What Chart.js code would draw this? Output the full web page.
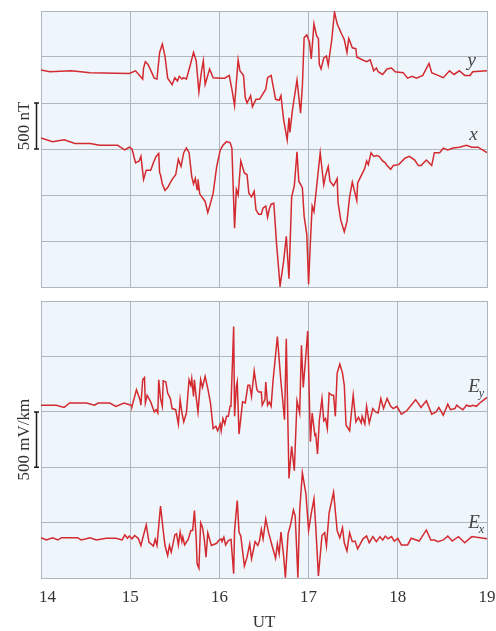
<!DOCTYPE html>
<html>
<head>
<meta charset="utf-8">
<script src="https://cdn.jsdelivr.net/npm/chart.js@4.4.0/dist/chart.umd.min.js"></script>
<style>
  html, body { margin: 0; padding: 0; background: #fff; overflow: hidden; }
  #wrap { position: relative; width: 496px; height: 631px; overflow: hidden; }
  canvas { position: absolute; left: 0; }
</style>
</head>
<body>
<div id="wrap">
  <canvas id="magChart" width="520" height="295" style="top:0;width:520px;height:295px"></canvas>
  <canvas id="elecChart" width="520" height="338" style="top:295px;width:520px;height:338px"></canvas>
</div>
<script>
/* Magnetometer (nT) and electric field (mV/km) traces, 14-19 UT */

const hourTicks = [14, 15, 16, 17, 18, 19];

// top panel, y component (nT, offset inside panel)
const magYTime = [14.0,14.1,14.34,14.55,14.99,15.06,15.14,15.15,15.17,15.20,
  15.27,15.30,15.33,15.36,15.39,15.42,15.47,15.50,15.53,15.55,
  15.58,15.60,15.63,15.67,15.71,15.74,15.77,15.80,15.82,15.84,
  15.89,15.93,16.02,16.06,16.11,16.14,16.17,16.21,16.23,16.27,
  16.29,16.31,16.35,16.37,16.41,16.45,16.52,16.54,16.58,16.63,
  16.67,16.69,16.72,16.76,16.78,16.79,16.82,16.87,16.91,16.93,
  16.95,16.98,17.01,17.03,17.06,17.09,17.11,17.12,17.14,17.17,
  17.20,17.22,17.26,17.29,17.32,17.37,17.40,17.43,17.45,17.49,
  17.53,17.54,17.60,17.65,17.69,17.73,17.76,17.78,17.83,17.88,
  17.93,17.97,18.06,18.11,18.16,18.21,18.28,18.35,18.38,18.45,
  18.51,18.58,18.63,18.69,18.75,18.81,18.84,19.0];
const magY = [2360,2340,2350,2330,2320,2350,2260,2380,2450,2420,
  2270,2260,2550,2640,2510,2270,2200,2275,2240,2290,
  2260,2275,2260,2400,2550,2460,2120,2350,2460,2200,
  2370,2275,2270,2270,2300,2150,1970,2470,2350,2300,
  2060,2000,2080,1960,2040,2040,2150,2275,2300,2040,
  2030,2080,1820,1600,1840,1680,1930,2250,1890,2180,
  2710,2740,2660,2480,2860,2730,2700,2420,2370,2490,
  2510,2410,2690,2990,2860,2750,2690,2550,2700,2600,
  2590,2500,2470,2450,2470,2350,2380,2340,2310,2370,
  2380,2340,2330,2270,2290,2270,2300,2430,2330,2300,
  2275,2350,2310,2350,2300,2300,2340,2350];

// top panel, x component
const magXTime = [14.0,14.13,14.26,14.38,14.55,14.66,14.86,14.89,14.94,14.99,
  15.02,15.06,15.10,15.12,15.15,15.18,15.23,15.26,15.29,15.32,
  15.33,15.34,15.36,15.39,15.42,15.47,15.51,15.54,15.57,15.60,
  15.63,15.66,15.69,15.71,15.73,15.75,15.76,15.78,15.84,15.87,
  15.90,15.93,15.97,16.01,16.04,16.08,16.12,16.14,16.17,16.19,
  16.21,16.24,16.28,16.31,16.33,16.36,16.39,16.41,16.44,16.47,
  16.49,16.52,16.54,16.56,16.58,16.61,16.64,16.68,16.72,16.75,
  16.78,16.81,16.84,16.87,16.89,16.93,16.95,16.98,17.00,17.02,
  17.04,17.06,17.09,17.13,17.17,17.19,17.22,17.24,17.28,17.32,
  17.33,17.36,17.40,17.43,17.46,17.49,17.52,17.54,17.55,17.59,
  17.63,17.65,17.67,17.70,17.73,17.76,17.79,17.83,17.86,17.88,
  17.92,17.95,18.01,18.08,18.13,18.19,18.23,18.26,18.32,18.38,
  18.41,18.47,18.51,18.56,18.62,18.69,18.77,18.83,18.90,19.0];
const magX = [1620,1580,1600,1560,1560,1540,1540,1520,1490,1520,
  1500,1350,1370,1420,1170,1270,1270,1350,1420,1450,
  1240,1220,1120,1050,1080,1170,1220,1390,1310,1460,
  1510,1460,1200,1120,1180,1060,1170,1010,930,810,
  910,1020,1310,1490,1540,1580,1570,1510,640,1060,
  1000,1370,1240,1220,1020,980,1040,840,790,790,
  860,880,760,850,900,910,480,10,280,550,
  90,980,1100,1470,1150,1080,770,570,30,490,
  880,820,1090,1460,1110,1210,1310,1150,1100,1180,
  920,730,600,710,980,1140,1020,940,1130,1210,
  1290,1370,1330,1460,1420,1430,1420,1370,1350,1320,
  1280,1320,1330,1400,1420,1380,1320,1320,1380,1320,
  1460,1460,1510,1490,1510,1520,1540,1520,1520,1460];

// bottom panel, Ey (mV/km, offset inside panel)
const elecYTime = [14.0,14.17,14.26,14.32,14.51,14.60,14.64,14.77,14.84,14.93,
  15.01,15.02,15.07,15.11,15.12,15.14,15.16,15.17,15.19,15.23,
  15.27,15.29,15.31,15.32,15.34,15.36,15.37,15.40,15.42,15.45,
  15.47,15.51,15.54,15.56,15.58,15.60,15.63,15.66,15.68,15.69,
  15.71,15.72,15.74,15.76,15.79,15.81,15.84,15.87,15.90,15.93,
  15.96,15.98,16.01,16.02,16.04,16.06,16.08,16.10,16.12,16.13,
  16.16,16.17,16.19,16.20,16.22,16.26,16.29,16.32,16.34,16.36,
  16.39,16.42,16.44,16.47,16.48,16.51,16.52,16.54,16.56,16.58,
  16.60,16.65,16.69,16.73,16.75,16.78,16.81,16.84,16.87,16.90,
  16.92,16.94,16.97,16.99,17.02,17.04,17.07,17.08,17.10,17.12,
  17.15,17.17,17.19,17.21,17.23,17.26,17.28,17.30,17.32,17.35,
  17.38,17.40,17.42,17.46,17.50,17.53,17.56,17.59,17.60,17.63,
  17.65,17.68,17.72,17.75,17.78,17.81,17.84,17.88,17.92,17.95,
  17.99,18.04,18.10,18.20,18.26,18.32,18.38,18.43,18.46,18.51,
  18.56,18.59,18.64,18.66,18.69,18.73,18.77,18.81,18.84,18.88,
  18.92,19.0];
const elecY = [1560,1560,1540,1580,1580,1560,1580,1580,1550,1580,
  1560,1550,1700,1610,1560,1790,1810,1580,1650,1590,
  1500,1520,1490,1790,1620,1550,1780,1770,1670,1620,
  1530,1520,1390,1610,1490,1410,1490,1790,1740,1800,
  1640,1790,1630,1500,1790,1720,1820,1710,1580,1350,
  1370,1330,1390,1330,1440,1390,1460,1460,1550,1560,
  2270,1460,1730,1770,1300,1590,1580,1740,1740,1640,
  1870,1700,1680,1680,1560,1610,1770,1560,1590,1550,
  1770,2180,1770,1430,2160,900,1190,970,1600,1490,
  2100,1720,2020,2230,1230,1490,1290,1300,1120,1420,
  1620,1420,1440,1350,1670,1650,1650,1460,1850,1930,
  1850,1740,1380,1330,1650,1410,1450,1400,1460,1390,
  1550,1400,1530,1500,1490,1620,1530,1620,1550,1530,
  1550,1480,1510,1610,1540,1600,1480,1500,1540,1470,
  1570,1520,1530,1560,1540,1520,1560,1550,1560,1550,
  1580,1630];

// bottom panel, Ex
const elecXTime = [14.0,14.06,14.13,14.19,14.23,14.41,14.45,14.55,14.62,14.73,
  14.84,14.91,14.94,14.97,14.99,15.02,15.05,15.09,15.12,15.15,
  15.18,15.21,15.26,15.28,15.30,15.34,15.37,15.39,15.42,15.44,
  15.46,15.48,15.50,15.52,15.54,15.56,15.58,15.59,15.61,15.65,
  15.68,15.70,15.72,15.74,15.75,15.77,15.79,15.81,15.83,15.85,
  15.87,15.91,15.97,15.99,16.02,16.03,16.05,16.07,16.10,16.13,
  16.16,16.17,16.20,16.22,16.24,16.28,16.31,16.34,16.36,16.38,
  16.40,16.43,16.45,16.47,16.49,16.52,16.55,16.59,16.63,16.65,
  16.67,16.69,16.72,16.74,16.77,16.80,16.83,16.85,16.88,16.90,
  16.93,16.97,17.00,17.03,17.06,17.08,17.11,17.15,17.18,17.20,
  17.23,17.28,17.32,17.35,17.38,17.40,17.43,17.46,17.49,17.52,
  17.55,17.61,17.65,17.68,17.72,17.76,17.80,17.83,17.86,17.89,
  17.93,17.96,18.00,18.04,18.11,18.15,18.24,18.32,18.37,18.41,
  18.45,18.51,18.56,18.61,18.68,18.75,18.83,19.0];
const elecX = [365,345,365,345,365,365,345,365,345,360,
  360,345,390,360,380,355,385,360,295,390,
  480,325,290,350,295,650,430,295,205,295,
  235,310,390,400,300,415,330,370,300,350,
  430,430,610,355,130,90,500,460,355,190,
  410,295,315,340,355,330,370,300,340,350,
  40,430,700,415,380,110,190,310,175,250,
  330,295,340,440,355,535,415,295,180,310,
  220,415,200,5,400,490,615,560,5,610,
  950,760,430,585,715,465,20,385,410,290,
  590,775,430,365,455,320,245,410,330,335,
  265,355,380,320,375,330,375,345,380,355,
  375,335,360,300,300,360,335,435,345,345,
  330,345,380,335,375,320,375,355];

// 500-unit scale bars
const magScaleBar = [1500, 2000];
const elecScaleBar = [1000, 1500];

const RED = '#d32a2f';
const GRID = '#aeb7bf';
const TEXT = '#333333';
const SERIF = '"Liberation Serif", "DejaVu Serif", serif';

function toPoints(times, values) {
    return times.map((t, i) => ({ x: t, y: values[i] }));
}

function trace(times, values) {
    return {
        data: toPoints(times, values),
        borderColor: RED,
        borderWidth: 1.5,
        pointRadius: 0,
        tension: 0,
        fill: false
    };
}

// light blue plot background
const panelBackground = {
    id: 'panelBackground',
    beforeDraw(chart) {
        const { ctx, chartArea: a } = chart;
        ctx.save();
        ctx.fillStyle = '#eef6fc';
        ctx.fillRect(a.left, a.top, a.right - a.left, a.bottom - a.top);
        ctx.restore();
    }
};

// scale bar, its rotated label and the curve names
const panelNotes = {
    id: 'panelNotes',
    afterDraw(chart, args, opts) {
        const { ctx, chartArea: a } = chart;
        const xs = chart.scales.x, ys = chart.scales.y;
        const y0 = ys.getPixelForValue(opts.bar[0]);
        const y1 = ys.getPixelForValue(opts.bar[1]);
        const bx = a.left - 4.5;

        ctx.save();
        ctx.strokeStyle = '#1a1a1a';
        ctx.lineWidth = 1.5;
        ctx.beginPath();
        ctx.moveTo(bx, y0); ctx.lineTo(bx, y1);
        ctx.moveTo(bx - 2.5, y0); ctx.lineTo(bx + 2.5, y0);
        ctx.moveTo(bx - 2.5, y1); ctx.lineTo(bx + 2.5, y1);
        ctx.stroke();

        ctx.translate(25, (y0 + y1) / 2);
        ctx.rotate(-Math.PI / 2);
        ctx.font = '17px ' + SERIF;
        ctx.fillStyle = TEXT;
        ctx.textAlign = 'center';
        ctx.textBaseline = 'middle';
        ctx.fillText(opts.barText, 0, 0);
        ctx.restore();

        opts.names.forEach(n => {
            const px = xs.getPixelForValue(n.x);
            const py = ys.getPixelForValue(n.y);
            ctx.save();
            ctx.fillStyle = '#444';
            ctx.font = 'italic 19px ' + SERIF;
            ctx.textAlign = 'left';
            ctx.textBaseline = 'alphabetic';
            ctx.fillText(n.text, px, py);
            if (n.sub) {
                const w = ctx.measureText(n.text).width;
                ctx.font = 'italic 12px ' + SERIF;
                ctx.fillText(n.sub, px + w - 1, py + 5);
            }
            ctx.restore();
        });
    }
};

function makePanel(id, datasets, yMax, padding, withAxis, notes) {
    return new Chart(document.getElementById(id), {
        type: 'line',
        data: { datasets: datasets },
        options: {
            responsive: false,
            animation: false,
            devicePixelRatio: 1,
            layout: { padding: padding },
            plugins: {
                legend: { display: false },
                tooltip: { enabled: false },
                panelNotes: notes
            },
            scales: {
                x: {
                    type: 'linear',
                    min: 14,
                    max: 19,
                    afterBuildTicks: axis => {
                        axis.ticks = hourTicks.map(v => ({ value: v }));
                    },
                    grid: { color: GRID, lineWidth: 1, drawTicks: false },
                    border: { color: GRID, width: 1 },
                    ticks: {
                        display: withAxis,
                        padding: 9.5,
                        color: TEXT,
                        font: { family: SERIF, size: 17 },
                        maxRotation: 0,
                        // first label sits a little right of its grid line
                        callback: v => (v === 14 ? '\u2002 14' : String(v))
                    },
                    title: {
                        display: withAxis,
                        text: 'UT',
                        color: TEXT,
                        font: { family: SERIF, size: 17 },
                        padding: { top: -5, bottom: 0 }
                    }
                },
                y: {
                    min: 0,
                    max: yMax,
                    ticks: { display: false, stepSize: 500 },
                    grid: { color: GRID, lineWidth: 1, drawTicks: false },
                    border: { color: GRID, width: 1 }
                }
            }
        },
        plugins: [panelBackground, panelNotes]
    });
}

// canvases are 520 wide and cropped at 496 so the "19" label may run off the edge
makePanel('magChart',
    [trace(magYTime, magY), trace(magXTime, magX)],
    3000,
    { left: 41, right: 33, top: 11, bottom: 8 },
    false,
    {
        bar: magScaleBar,
        barText: '500 nT',
        names: [
            { text: 'y', x: 18.78, y: 2400 },
            { text: 'x', x: 18.80, y: 1595 }
        ]
    });

makePanel('elecChart',
    [trace(elecYTime, elecY), trace(elecXTime, elecX)],
    2500,
    { left: 41, right: 33, top: 6, bottom: 0 },
    true,
    {
        bar: elecScaleBar,
        barText: '500 mV/km',
        names: [
            { text: 'E', sub: 'y', x: 18.79, y: 1680 },
            { text: 'E', sub: 'x', x: 18.79, y: 452 }
        ]
    });
</script>
</body>
</html>
